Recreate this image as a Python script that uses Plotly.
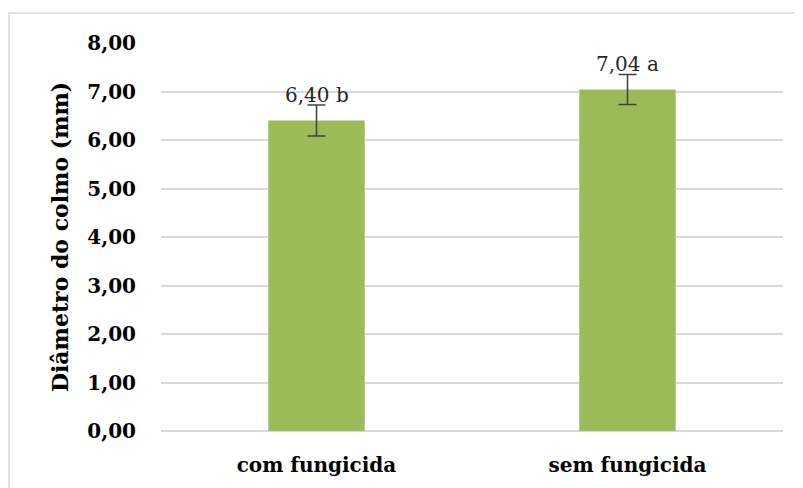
import plotly.graph_objects as go

categories = ["com fungicida", "sem fungicida"]
values = [6.40, 7.04]
errors = [0.32, 0.31]
letters = ["b", "a"]
y_ticks = [0, 1, 2, 3, 4, 5, 6, 7, 8]

FONT = "DejaVu Serif"
W, H = 803, 488
# page body has an 8px margin; compensate so the plot lands where the reference has it
ML, MR, MT, MB = 153, 28, 35, 65

fig = go.Figure()
fig.add_trace(go.Bar(
    x=categories, y=values, width=0.31,
    marker=dict(color="#9BBB59", line=dict(width=0)),
    error_y=dict(type="data", array=errors, visible=True,
                 color="#404040", thickness=1.5, width=9),
))

for c, v, l in zip(categories, values, letters):
    fig.add_annotation(x=c, y=v, xref="x", yref="y",
                       text=f"{v:.2f}".replace(".", ",") + " " + l,
                       showarrow=False, yanchor="middle", yshift=26,
                       font=dict(family=FONT, size=20, color="#262626"))

pw = W - ML - MR
ph = H - MT - MB
fig.add_shape(type="rect", xref="paper", yref="paper",
              x0=(1 - ML) / pw, x1=(W + 10 - ML) / pw,
              y0=1 - (H + 10 - MT) / ph, y1=1 - (5 - MT) / ph,
              line=dict(color="#D9D9D9", width=1.5), fillcolor="rgba(0,0,0,0)",
              layer="below")

fig.update_layout(
    width=W, height=H,
    margin=dict(l=ML, r=MR, t=MT, b=MB),
    paper_bgcolor="white", plot_bgcolor="white",
    separators=",.",
    showlegend=False,
    font=dict(family=FONT, color="#000000"),
    xaxis=dict(showgrid=False, showline=False, zeroline=False, ticks="",
               tickfont=dict(family=FONT, size=20, color="#000000", weight="bold"),
               ticklabelstandoff=20),
    yaxis=dict(range=[0, 8], tickvals=y_ticks, tickformat=".2f",
               showgrid=True, gridcolor="#D9D9D9", gridwidth=1.5,
               zeroline=True, zerolinecolor="#D9D9D9", zerolinewidth=1.5,
               showline=False, ticks="",
               tickfont=dict(family=FONT, size=20, color="#000000", weight="bold"),
               ticklabelstandoff=24,
               title=dict(text="Diâmetro do colmo (mm)", standoff=12,
                          font=dict(family=FONT, size=22, color="#000000", weight="bold"))),
)

fig.write_html("out.html")
